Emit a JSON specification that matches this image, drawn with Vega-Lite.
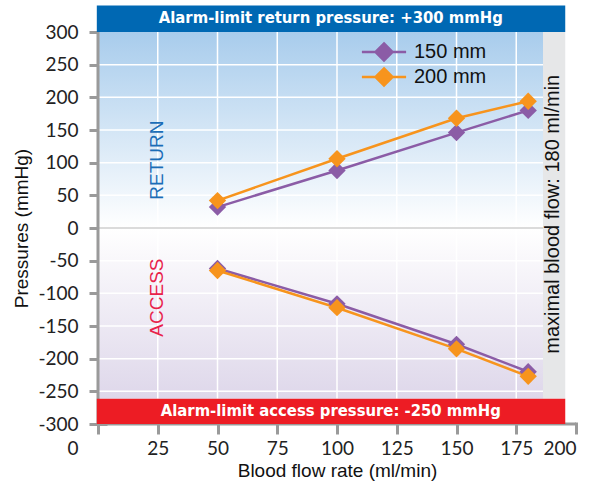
{
  "$schema": "https://vega.github.io/schema/vega-lite/v6.json",
  "width": 478,
  "height": 392,
  "autosize": {"type": "none"},
  "padding": {"left": 98, "top": 32, "right": 30, "bottom": 59},
  "background": "white",
  "config": {
    "view": {"stroke": null},
    "axis": {
      "grid": false,
      "domain": false,
      "tickColor": "#9a9a9a",
      "tickWidth": 3,
      "labelFont": "Lato",
      "labelFontSize": 19,
      "labelColor": "#222222",
      "titleFont": "Liberation Sans",
      "titleFontSize": 19,
      "titleFontWeight": "normal",
      "titleColor": "#111111",
      "zindex": 1
    },
    "legend": {
      "title": null, "orient": "none", "legendX": 276, "legendY": 10,
      "symbolType": "M-2.6,0H2.6M0,-1L1,0L0,1L-1,0Z",
      "symbolSize": 289, "symbolStrokeWidth": 2.5,
      "labelFont": "Liberation Sans", "labelFontSize": 20, "labelColor": "#111111",
      "labelOffset": 20, "rowPadding": -3, "padding": 0
    }
  },
  "encoding": {
    "x": {
      "type": "quantitative",
      "scale": {"domain": [0, 200], "nice": false, "zero": false},
      "axis": {
        "title": "Blood flow rate (ml/min)",
        "values": [0, 25, 50, 75, 100, 125, 150, 175, 200],
        "offset": -2,
        "tickSize": 12,
        "labelPadding": 5,
        "titlePadding": 3,
        "labelOffset": {"condition": {"test": "datum.value === 0", "value": -31}, "value": 0}
      }
    },
    "y": {
      "type": "quantitative",
      "scale": {"domain": [-300, 300], "nice": false, "zero": false},
      "axis": {
        "title": "Pressures (mmHg)",
        "values": [-300, -250, -200, -150, -100, -50, 0, 50, 100, 150, 200, 250, 300],
        "labelExpr": "'' + datum.value",
        "offset": -9,
        "tickSize": 18,
        "labelPadding": 11,
        "titlePadding": 6
      }
    }
  },
  "layer": [
    {
      "data": {"values": [{"x": 0, "x2": 186.2, "y": 0, "y2": 300}]},
      "mark": {"type": "rect", "color": {"gradient": "linear", "x1": 0, "y1": 0, "x2": 0, "y2": 1, "stops": [{"offset": 0, "color": "#a8ccec"}, {"offset": 1, "color": "#ffffff"}]}},
      "encoding": {"x": {"field": "x"}, "x2": {"field": "x2"}, "y": {"field": "y"}, "y2": {"field": "y2"}}
    },
    {
      "data": {"values": [{"x": 0, "x2": 186.2, "y": -261.5, "y2": 0}]},
      "mark": {"type": "rect", "color": {"gradient": "linear", "x1": 0, "y1": 0, "x2": 0, "y2": 1, "stops": [{"offset": 0, "color": "#ffffff"}, {"offset": 1, "color": "#ded7ea"}]}},
      "encoding": {"x": {"field": "x"}, "x2": {"field": "x2"}, "y": {"field": "y"}, "y2": {"field": "y2"}}
    },
    {
      "data": {"values": [{"g": 25}, {"g": 50}, {"g": 75}, {"g": 100}, {"g": 125}, {"g": 150}, {"g": 175}]},
      "mark": {"type": "rule", "color": "white", "strokeWidth": 1.5},
      "encoding": {"x": {"field": "g"}, "y": {"datum": -261.5}, "y2": {"datum": 300}}
    },
    {
      "data": {"values": [{"g": -250}, {"g": -200}, {"g": -150}, {"g": -100}, {"g": -50}, {"g": 50}, {"g": 100}, {"g": 150}, {"g": 200}, {"g": 250}]},
      "mark": {"type": "rule", "color": "white", "strokeWidth": 1.5},
      "encoding": {"y": {"field": "g"}, "x": {"datum": 0}, "x2": {"datum": 186.2}}
    },
    {
      "data": {"values": [{"g": 0}]},
      "mark": {"type": "rule", "color": "#cfcfcf", "strokeWidth": 1.5},
      "encoding": {"y": {"field": "g"}, "x": {"datum": 0}, "x2": {"datum": 186.2}}
    },
    {
      "data": {"values": [{"x": 0, "y": -300, "y2": 300}]},
      "mark": {"type": "rule", "color": "#9a9a9a", "strokeWidth": 3},
      "encoding": {"x": {"field": "x"}, "y": {"field": "y"}, "y2": {"field": "y2"}}
    },
    {
      "data": {"values": [{"x": 0, "x2": 200, "y": -300}]},
      "mark": {"type": "rule", "color": "#9a9a9a", "strokeWidth": 3},
      "encoding": {"x": {"field": "x"}, "x2": {"field": "x2"}, "y": {"field": "y"}}
    },
    {
      "data": {"values": [{"x": 186.2, "x2": 195.5, "y": -261.5, "y2": 300}]},
      "mark": {"type": "rect", "color": "#e6e7e8"},
      "encoding": {"x": {"field": "x"}, "x2": {"field": "x2"}, "y": {"field": "y"}, "y2": {"field": "y2"}}
    },
    {
      "data": {"values": [{"x": -0.5, "x2": 195.5, "y": 300, "y2": 340.7}]},
      "mark": {"type": "rect", "color": "#0068b3"},
      "encoding": {"x": {"field": "x"}, "x2": {"field": "x2"}, "y": {"field": "y"}, "y2": {"field": "y2"}}
    },
    {
      "data": {"values": [{"x": -0.5, "x2": 195.5, "y": -300, "y2": -261.5}]},
      "mark": {"type": "rect", "color": "#ed1c24"},
      "encoding": {"x": {"field": "x"}, "x2": {"field": "x2"}, "y": {"field": "y"}, "y2": {"field": "y2"}}
    },
    {
      "data": {"name": "pts", "values": [
        {"flow": 50, "p": 32, "series": "150 mm", "region": "return"},
        {"flow": 100, "p": 88, "series": "150 mm", "region": "return"},
        {"flow": 150, "p": 146, "series": "150 mm", "region": "return"},
        {"flow": 180, "p": 180, "series": "150 mm", "region": "return"},
        {"flow": 50, "p": -62, "series": "150 mm", "region": "access"},
        {"flow": 100, "p": -116, "series": "150 mm", "region": "access"},
        {"flow": 150, "p": -178, "series": "150 mm", "region": "access"},
        {"flow": 180, "p": -220, "series": "150 mm", "region": "access"},
        {"flow": 50, "p": 42, "series": "200 mm", "region": "return"},
        {"flow": 100, "p": 106, "series": "200 mm", "region": "return"},
        {"flow": 150, "p": 168, "series": "200 mm", "region": "return"},
        {"flow": 180, "p": 194, "series": "200 mm", "region": "return"},
        {"flow": 50, "p": -65, "series": "200 mm", "region": "access"},
        {"flow": 100, "p": -122, "series": "200 mm", "region": "access"},
        {"flow": 150, "p": -185, "series": "200 mm", "region": "access"},
        {"flow": 180, "p": -227, "series": "200 mm", "region": "access"}
      ]},
      "layer": [
        {
          "mark": {"type": "line", "strokeWidth": 2.5},
          "encoding": {
            "x": {"field": "flow"}, "y": {"field": "p"},
            "detail": {"field": "region"},
            "color": {"field": "series", "type": "nominal", "title": null, "scale": {"domain": ["150 mm", "200 mm"], "range": ["#8b5ca6", "#f7941d"]}}
          }
        },
        {
          "mark": {"type": "point", "shape": "diamond", "filled": true, "size": 300, "opacity": 1, "strokeWidth": 0},
          "encoding": {
            "x": {"field": "flow"}, "y": {"field": "p"},
            "fill": {"field": "series", "type": "nominal", "title": null, "scale": {"domain": ["150 mm", "200 mm"], "range": ["#8b5ca6", "#f7941d"]}},
            "stroke": {"field": "series", "type": "nominal", "title": null, "scale": {"domain": ["150 mm", "200 mm"], "range": ["#8b5ca6", "#f7941d"]}}
          }
        }
      ]
    },
    {
      "data": {"values": [
        {"x": 97.4, "y": 320.8, "t": "Alarm-limit return pressure: +300 mmHg"},
        {"x": 97.4, "y": -280.8, "t": "Alarm-limit access pressure: -250 mmHg"}
      ]},
      "mark": {"type": "text", "font": "DejaVu Sans Condensed, Roboto", "fontWeight": "bold", "fontSize": 16.5, "color": "white", "align": "center", "baseline": "middle"},
      "encoding": {"x": {"field": "x"}, "y": {"field": "y"}, "text": {"field": "t"}}
    },
    {
      "data": {"values": [{"x": 24.5, "y": 104, "t": "RETURN"}]},
      "mark": {"type": "text", "font": "Liberation Sans", "fontSize": 19, "angle": 270, "align": "center", "baseline": "middle", "color": "#1b6db7"},
      "encoding": {"x": {"field": "x"}, "y": {"field": "y"}, "text": {"field": "t"}}
    },
    {
      "data": {"values": [{"x": 24.5, "y": -106.5, "t": "ACCESS"}]},
      "mark": {"type": "text", "font": "Liberation Sans", "fontSize": 19, "angle": 270, "align": "center", "baseline": "middle", "color": "#e8224a"},
      "encoding": {"x": {"field": "x"}, "y": {"field": "y"}, "text": {"field": "t"}}
    },
    {
      "data": {"values": [{"x": 190.4, "y": 21, "t": "maximal blood flow: 180 ml/min"}]},
      "mark": {"type": "text", "font": "Liberation Sans", "fontSize": 20, "angle": 270, "align": "center", "baseline": "middle", "color": "#111111"},
      "encoding": {"x": {"field": "x"}, "y": {"field": "y"}, "text": {"field": "t"}}
    }
  ]
}
